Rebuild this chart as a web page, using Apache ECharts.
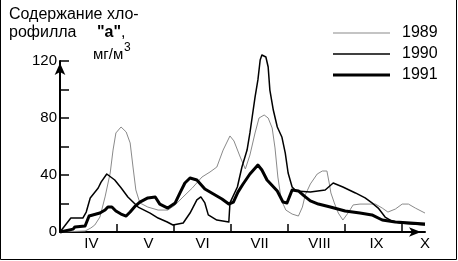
<!DOCTYPE html>
<html>
<head>
<meta charset="utf-8">
<script src="https://cdn.jsdelivr.net/npm/echarts@6/dist/echarts.min.js"></script>
<style>
html,body{margin:0;padding:0;background:#fff;}
#chart{width:458px;height:261px;}
</style>
</head>
<body>
<div id="chart"></div>
<script>
// Month positions (0 = start of April), values in mg/m3
const x1989 = [0.00,0.44,0.54,0.61,0.70,0.79,0.88,0.93,0.98,1.07,1.16,1.23,1.28,1.33,1.40,1.54,1.72,1.89,2.02,2.14,2.32,2.49,2.63,2.75,2.86,2.98,3.05,3.16,3.25,3.33,3.42,3.49,3.58,3.65,3.72,3.77,3.82,3.88,3.96,4.07,4.18,4.25,4.30,4.39,4.51,4.60,4.68,4.72,4.75,4.81,4.88,4.96,5.05,5.14,5.26,5.53,5.65,5.75,5.88,6.00,6.11,6.23,6.40];
const v1989 = [0,0.7,2.8,4.9,10.5,24.6,41.4,57.5,69.5,73.7,70.2,62.5,45.6,29.5,20.4,17.5,15.4,15.4,19,23.9,30.9,38.6,42.1,45.6,57.5,67.4,63.9,52.6,44.2,54,69.5,80,82.1,80,73,59,38.6,22.5,15.4,12.6,11.2,17.5,26,33.7,40.7,42.8,42.8,34.4,27.4,20.4,13.3,8.4,13.3,19,19.6,19.6,16.8,14,16.1,19.6,19.6,16.8,13.3];

const x1990 = [0.00,0.19,0.40,0.46,0.53,0.67,0.72,0.82,0.96,1.07,1.19,1.37,1.58,1.72,1.88,1.98,2.16,2.28,2.40,2.47,2.54,2.60,2.75,2.96,2.98,3.11,3.19,3.28,3.33,3.37,3.42,3.47,3.51,3.54,3.61,3.65,3.68,3.74,3.81,3.89,3.95,4.00,4.07,4.14,4.39,4.65,4.79,4.96,5.18,5.35,5.47,5.58,5.70,5.82,5.96,6.40];
const v1990 = [0,9.8,9.8,14,23.9,30.9,35,40.7,36.5,31,24.6,17.5,13.3,9.8,7,4.9,6.3,13.3,22.5,24.6,20.4,12,8.4,7,20.4,31.6,45.6,57.5,69.5,80.7,94.7,106.7,120.7,124.2,122.8,115.8,99.6,85.6,73.7,66.7,55.4,41.4,31.6,28.8,28,29.5,34.4,31.6,27.4,23.9,20.4,16.8,10.5,7.7,6.3,4.9];

const x1991 = [0.00,0.23,0.26,0.44,0.51,0.54,0.70,0.79,0.84,0.91,0.98,1.07,1.16,1.23,1.32,1.40,1.54,1.67,1.75,1.89,2.02,2.11,2.19,2.28,2.40,2.54,2.72,2.84,2.96,3.04,3.12,3.21,3.33,3.47,3.54,3.63,3.81,3.91,3.98,4.07,4.18,4.28,4.39,4.53,4.74,5.00,5.26,5.47,5.65,5.88,6.14,6.40];
const v1991 = [0,2,3.5,4.2,11.2,12.6,13.3,15.4,17.5,17.5,14.7,12.6,11.2,14,18.2,21,23.9,24.6,19.6,16.8,20.4,28,34.4,37.9,36.5,30.2,26,23.2,19.6,21,28,33.7,40.7,47,43.5,36.5,28.8,21,20.4,29.5,28.8,25.3,21.8,19.6,17.5,14.7,13.3,12,8.4,7,6.3,5.6];

const seriesNames = ['1989','1990','1991'];
const monthLabels = ['IV','V','VI','VII','VIII','IX','X'];
const monthLabelPos = [0.55,1.55,2.5,3.5,4.55,5.55,6.4];
const monthBounds = [1,2,3,4,5,6];
const yLabels = [0,40,80,120];

function zip(xs, vs){ return xs.map((x,i)=>[x, vs[i]]); }

const FONT = '"Liberation Sans", Arial, sans-serif';
const chart = echarts.init(document.getElementById('chart'), null, {renderer:'canvas'});
chart.setOption({
  animation:false,
  backgroundColor:'#fff',
  textStyle:{fontFamily:FONT},
  grid:{left:60, right:33, top:61, bottom:29, containLabel:false},
  legend:{
    data:[
      {name:seriesNames[0], icon:'path://M0,0H57V1H0Z'},
      {name:seriesNames[1], icon:'path://M0,0H57V1.6H0Z'},
      {name:seriesNames[2], icon:'path://M0,0H57V3H0Z'}
    ],
    orient:'vertical', left:333, top:25,
    itemWidth:57, itemHeight:14, itemGap:5, padding:0,
    textStyle:{fontSize:16, color:'#000', fontFamily:FONT, padding:[0,0,0,7]}
  },
  xAxis:{
    type:'value', min:0, max:6.4,
    axisLine:{show:true, symbol:['none','arrow'], symbolSize:[7,12], symbolOffset:[0,-4], lineStyle:{color:'#000', width:2}},
    axisTick:{show:true, inside:true, length:8, customValues:monthBounds, lineStyle:{color:'#000', width:1.5}},
    axisLabel:{show:true, customValues:monthLabelPos, color:'#000', fontSize:15, margin:4, fontFamily:FONT,
      formatter:function(v){ const i = monthLabelPos.indexOf(v); return i>=0 ? monthLabels[i] : ''; }},
    splitLine:{show:false}
  },
  yAxis:{
    type:'value', min:0, max:120, interval:20,
    axisLine:{show:true, symbol:['none','arrow'], symbolSize:[8,12], symbolOffset:[0,-2], lineStyle:{color:'#000', width:2}},
    axisTick:{show:true, inside:true, length:9, lineStyle:{color:'#000', width:1.5}},
    axisLabel:{color:'#000', fontSize:15, margin:3, fontFamily:FONT,
      formatter:function(v){ return yLabels.indexOf(v)>=0 ? String(v) : ''; }},
    splitLine:{show:false}
  },
  series:[
    {name:seriesNames[0], type:'line', symbol:'none', clip:false, data:zip(x1989,v1989), z:2,
     lineStyle:{color:'#8a8a8a', width:1, join:'round'}, itemStyle:{color:'#8a8a8a'}},
    {name:seriesNames[1], type:'line', symbol:'none', clip:false, data:zip(x1990,v1990), z:3,
     lineStyle:{color:'#000', width:1.5, join:'round'}, itemStyle:{color:'#000'}},
    {name:seriesNames[2], type:'line', symbol:'none', clip:false, data:zip(x1991,v1991), z:4,
     lineStyle:{color:'#000', width:3, join:'round'}, itemStyle:{color:'#000'}}
  ],
  graphic:[
    {type:'rect', silent:true, shape:{x:0.5, y:-5, width:456, height:264.5}, style:{fill:'none', stroke:'#000', lineWidth:1}},
    {type:'text', silent:true, x:9, y:15, style:{text:'Содержание хло-', font:'16px '+FONT, fill:'#000', verticalAlign:'middle'}},
    {type:'text', silent:true, x:9, y:33, style:{text:'рофилла', font:'16px '+FONT, fill:'#000', verticalAlign:'middle'}},
    {type:'text', silent:true, x:97, y:33, style:{text:'{b|"а"},', font:'16px '+FONT, fill:'#000', verticalAlign:'middle',
      rich:{b:{fontWeight:'bold', fontSize:16, fontFamily:FONT}}}},
    {type:'text', silent:true, x:93, y:55, style:{text:'мг/м', font:'15px '+FONT, fill:'#000', verticalAlign:'middle'}},
    {type:'text', silent:true, x:124, y:47.5, style:{text:'3', font:'12px '+FONT, fill:'#000', verticalAlign:'middle'}}
  ]
});
</script>
</body>
</html>
